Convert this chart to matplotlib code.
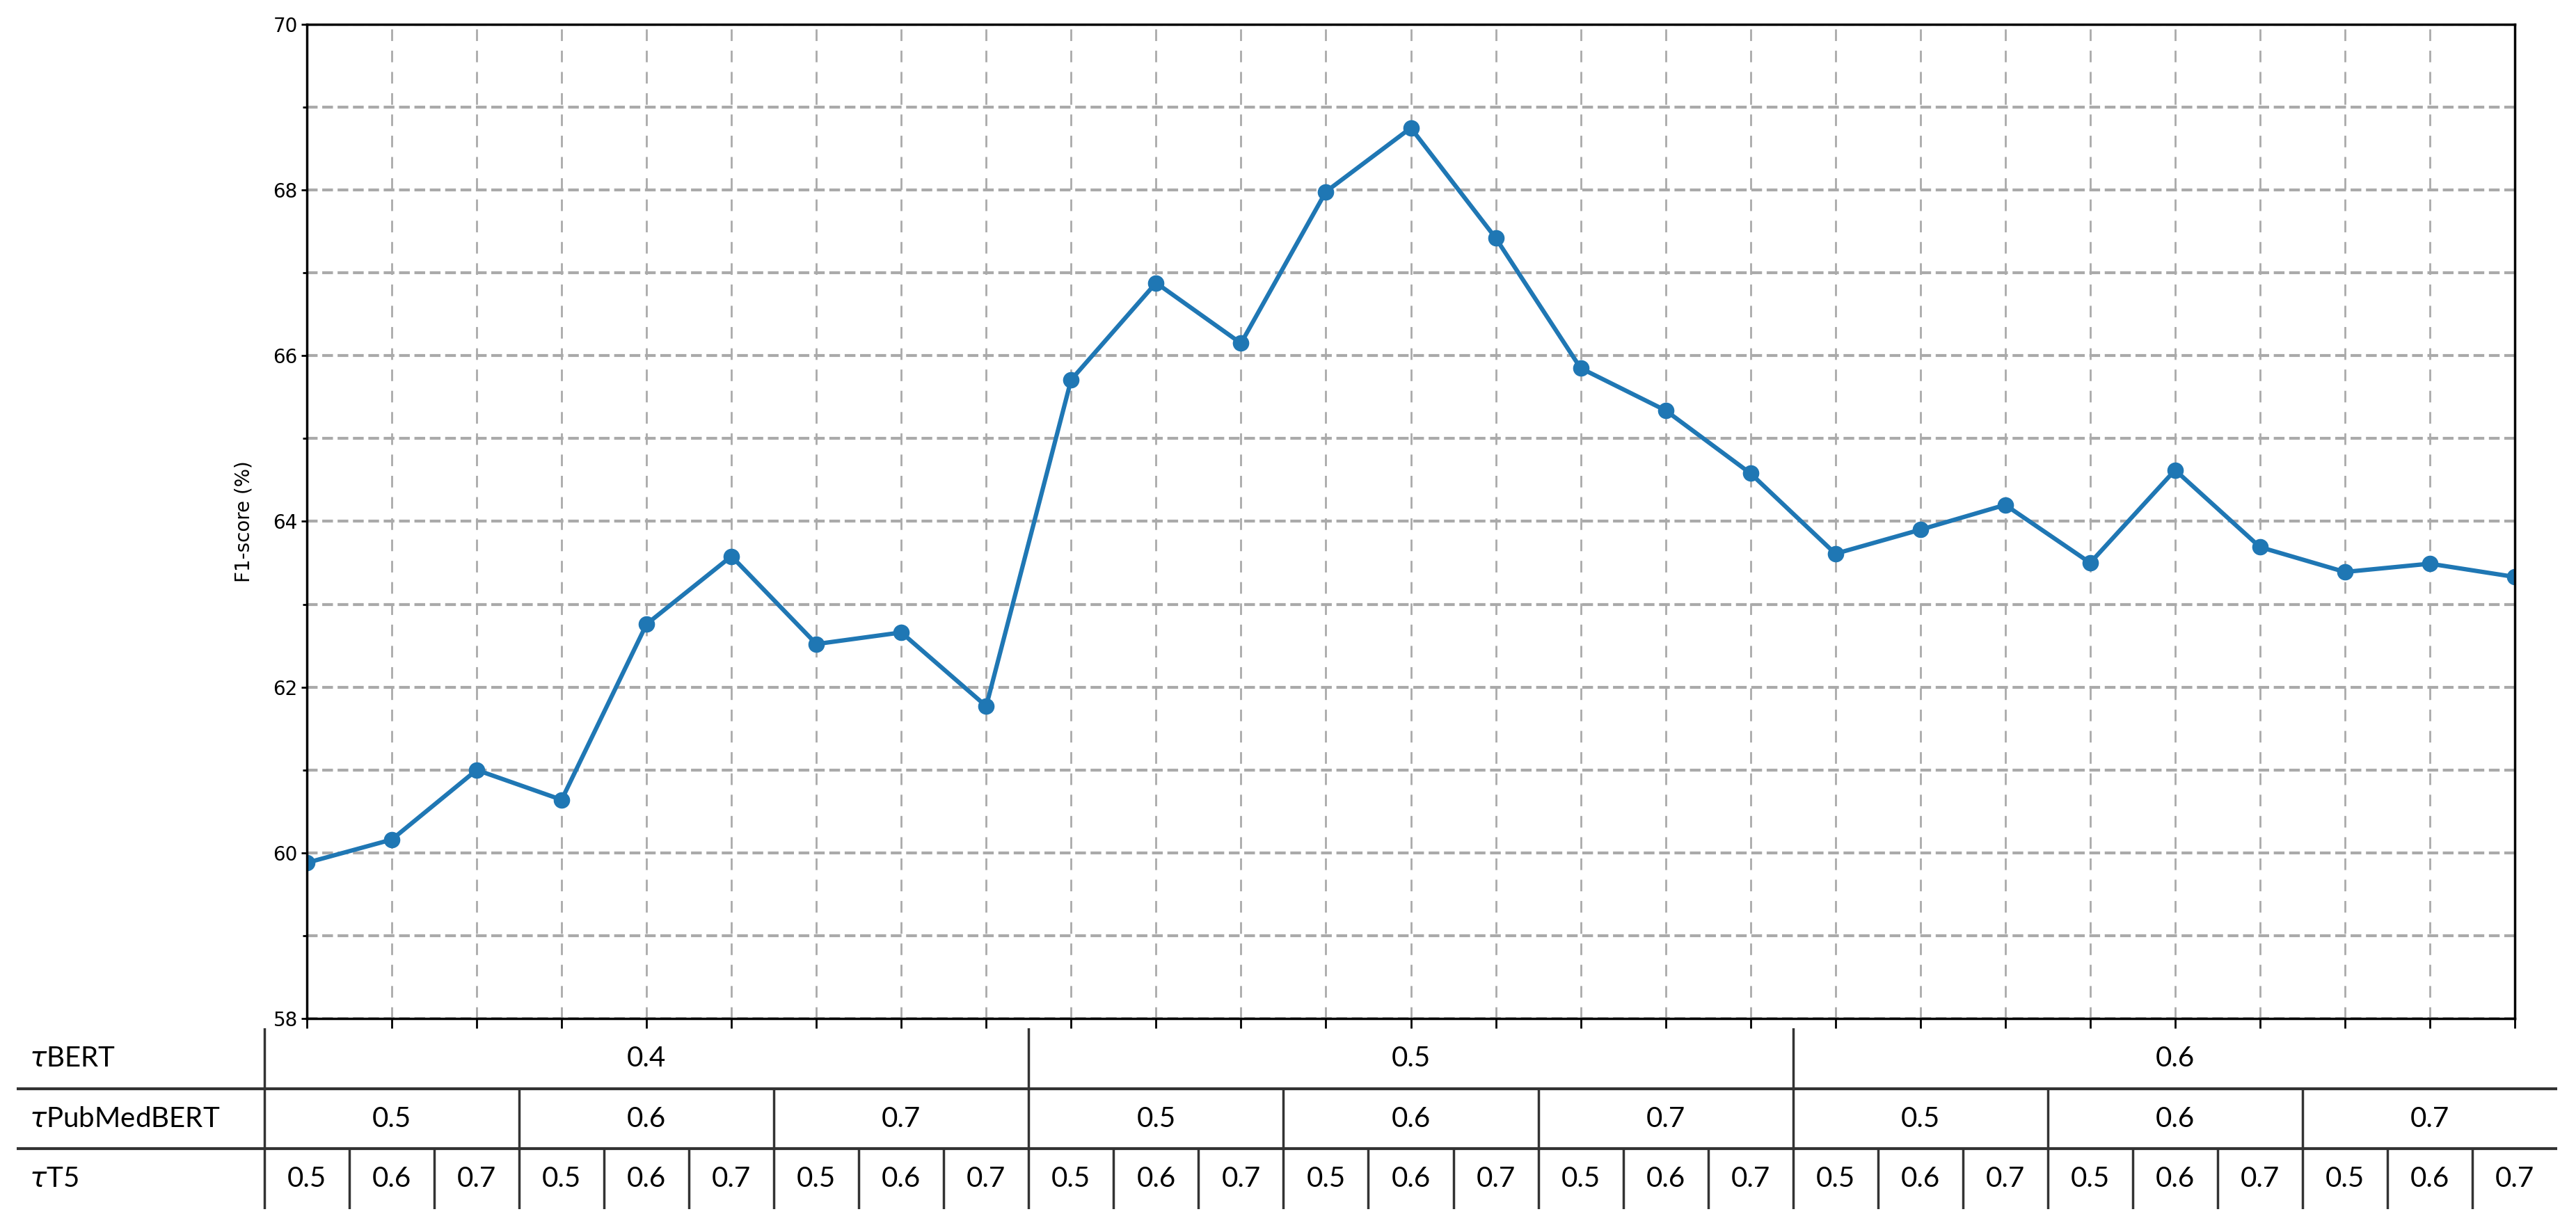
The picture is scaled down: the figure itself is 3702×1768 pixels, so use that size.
import matplotlib
matplotlib.use("Agg")
import matplotlib.pyplot as plt
import numpy as np
from matplotlib.ticker import MultipleLocator

f1 = [59.88, 60.16, 61.00, 60.64, 62.76, 63.58, 62.52, 62.66, 61.77,
      65.71, 66.88, 66.15, 67.98, 68.75, 67.42, 65.85, 65.34, 64.58,
      63.61, 63.90, 64.20, 63.50, 64.62, 63.69, 63.39, 63.49, 63.33]
bert_levels = ["0.4", "0.5", "0.6"]
pubmed_levels = ["0.5", "0.6", "0.7"]
t5_levels = ["0.5", "0.6", "0.7"]
row_labels = ["BERT", "PubMedBERT", "T5"]

W, H = 3702, 1768
fig = plt.figure(figsize=(W/100, H/100), dpi=100)
L, R, T, B = 441, 3614, 35, 1464
ax = fig.add_axes([L/W, 1-B/H, (R-L)/W, (B-T)/H])
x = np.arange(len(f1))
ax.plot(x, f1, color="#1f77b4", lw=4.5, marker="o", ms=16)
ax.set_xlim(0, len(f1)-1)
ax.set_ylim(58, 70)
ax.set_xticks(x)
ax.set_xticklabels([])
ax.yaxis.set_major_locator(MultipleLocator(2))
ax.yaxis.set_minor_locator(MultipleLocator(1))
ax.grid(True, which="major", axis="y", ls="--", color="#aaaaaa", lw=3)
ax.grid(True, which="minor", axis="y", ls="--", color="#aaaaaa", lw=3)
ax.grid(True, which="major", axis="x", ls=(0, (6, 5)), color="#aaaaaa", lw=2)
ax.tick_params(axis="y", labelsize=20, length=6, width=2)
ax.tick_params(axis="y", which="minor", length=4, width=2)
ax.tick_params(axis="x", length=10, width=2)
for s in ax.spines.values():
    s.set_linewidth(2.5)
ax.set_ylabel("F1-score (%)", fontsize=20, labelpad=20)

# table
TL, TR, TT, TB = 24, 3675, 1478, 1738
tax = fig.add_axes([TL/W, 1-TB/H, (TR-TL)/W, (TB-TT)/H])
unit = (R-L)/(len(f1)-1)
xmin = -0.5 - (380-TL)/unit
tax.set_xlim(xmin, len(f1)-0.5)
tax.set_ylim(0, 3)
tax.axis("off")
lc = "#333333"
fs = 29
n = len(f1)
for yb in [1, 2]:
    tax.plot([xmin, n-0.5], [yb, yb], color=lc, lw=3)
tax.plot([-0.5, -0.5], [0, 3], color=lc, lw=2.5)
for i, lab in enumerate(row_labels):
    tax.text(xmin+0.15, 2.5-i, r"$\mathit{\tau}$" + lab, fontsize=fs, va="center",
             ha="left", family="Lato")
for g, lab in enumerate(bert_levels):
    tax.text(g*9+4, 2.5, lab, fontsize=fs, ha="center", va="center", family="Lato")
    if g > 0:
        tax.plot([g*9-0.5]*2, [2, 3], color=lc, lw=2.5)
for g in range(9):
    tax.text(g*3+1, 1.5, pubmed_levels[g % 3], fontsize=fs, ha="center", va="center", family="Lato")
    if g > 0:
        tax.plot([g*3-0.5]*2, [1, 2], color=lc, lw=2.5)
for i in range(n):
    tax.text(i, 0.5, t5_levels[i % 3], fontsize=fs, ha="center", va="center", family="Lato")
    if i > 0:
        tax.plot([i-0.5]*2, [0, 1], color=lc, lw=2.5)

fig.savefig("out.png", dpi=100)
